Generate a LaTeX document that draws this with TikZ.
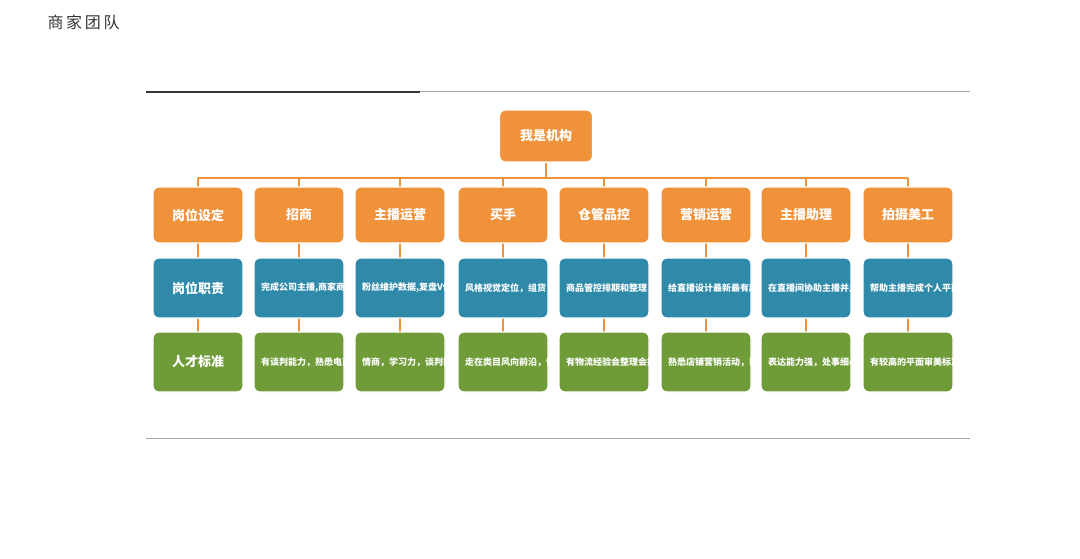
\documentclass[tikz,border=0pt]{standalone}
\usepackage{fontspec}
\newfontfamily\cjk{Noto Sans CJK SC}
\definecolor{org}{HTML}{F0923A}
\definecolor{blu}{HTML}{2F8AAA}
\definecolor{grn}{HTML}{6F9C38}
\definecolor{gold}{HTML}{F5B700}
\begin{document}
\begin{tikzpicture}[x=1pt,y=-1pt,
 box/.style={rounded corners=6pt,draw=white,line width=1.2pt,minimum width=90pt,text=white,align=left,font=\cjk\bfseries\fontsize{9}{11}\selectfont,text width=76pt,inner sep=4pt},
 ob/.style={box,fill=org,minimum height=56pt,align=center,font=\cjk\bfseries\fontsize{13}{15}\selectfont},
 bb/.style={box,fill=blu,minimum height=60pt},
 gb/.style={box,fill=grn,minimum height=60pt},
 big/.style={align=center,font=\cjk\bfseries\fontsize{13}{15}\selectfont},
 ln/.style={draw=org,line width=2pt}]
\useasboundingbox (0,0) rectangle (1080,559);
\fill[gold] (0,0) -- (50,0) arc (0:-90:50) -- cycle;
\node[anchor=west,font=\cjk\fontsize{16}{18}\selectfont,text=black!80] (title) at (44,22) {商\,家\,团\,队};
\draw[gray!70,line width=1pt] (146,92) -- (970,92);
\draw[black!80,line width=1.5pt] (146,92) -- (420,92);
\draw[gray!70,line width=1pt] (146,438) -- (970,438);
\node[ob,minimum width=93pt,minimum height=52pt,text width=80pt] (root) at (546,136) {我是机构};
\coordinate (busL) at (198,178);
\coordinate (busR) at (908,178);
\draw[ln] (root) -- (546,178);
\draw[ln] (busL) -- (busR);
\foreach \x in {198,299,400,503,604,706,806,908}{\draw[ln] (\x,178) -- (\x,362);}
\node[ob] (a1) at (198,215) {岗位设定};
\node[bb,big] (b1) at (198,288) {岗位职责};
\node[gb,big] (c1) at (198,362) {人才标准};
\foreach \i/\x/\a/\b/\c in {
2/299/{招商}/{完成公司主播,商家商品需求}/{有谈判能力，熟悉电商环境},
3/400/{主播运营}/{粉丝维护数据,复盘V任务变现}/{情商，学习力，谈判能力},
4/503/{买手}/{风格视觉定位，组货}/{走在类目风向前沿，懂货品},
5/604/{仓管品控}/{商品管控排期和整理}/{有物流经验会整理会排期},
6/706/{营销运营}/{给直播设计最新最有趣的直播营销活动}/{熟悉店铺营销活动，熟悉淘宝店规则},
7/806/{主播助理}/{在直播间协助主播并且实时监控反馈数据}/{表达能力强，处事细心},
8/908/{拍摄美工}/{帮助主播完成个人平面视频的提升}/{有较高的平面审美标准懂拍摄}}{
 \node[ob] (a\i) at (\x,215) {\a};
 \node[bb] (b\i) at (\x,288) {\b};
 \node[gb] (c\i) at (\x,362) {\c};
}
\end{tikzpicture}
\end{document}
